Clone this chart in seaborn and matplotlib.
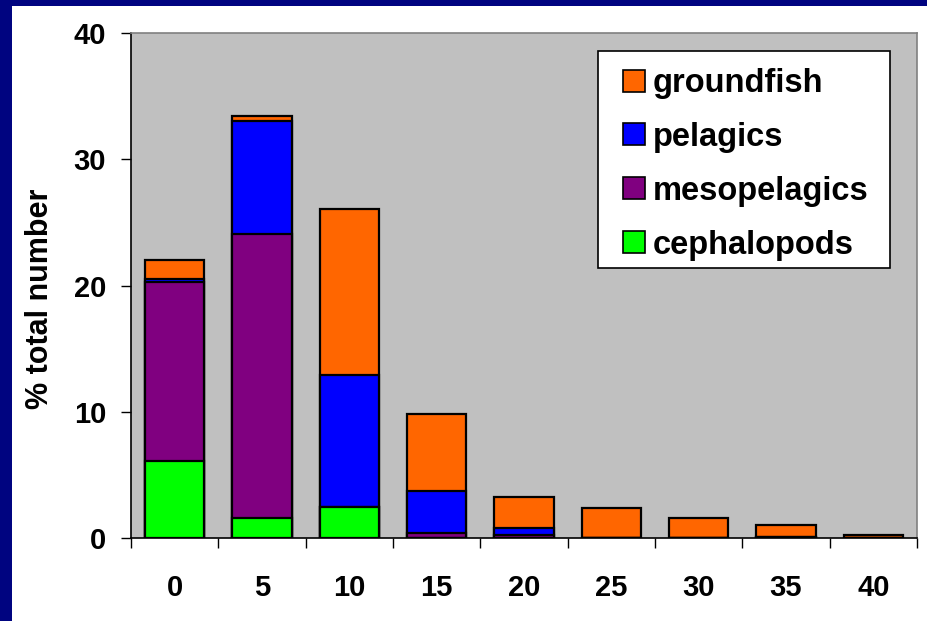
import numpy as np
import pandas as pd
import matplotlib
matplotlib.use("Agg")
import matplotlib.pyplot as plt
from matplotlib.patches import Rectangle, Patch
import seaborn as sns

# Depth / size classes on the x axis
categories = ["0", "5", "10", "15", "20", "25", "30", "35", "40"]

# Percent of total number, per group
cephalopods = [6.1, 1.6, 2.5, 0.0, 0.0, 0.0, 0.0, 0.0, 0.0]
mesopelagics = [14.2, 22.5, 0.0, 0.45, 0.25, 0.0, 0.0, 0.1, 0.0]
pelagics = [0.2, 8.9, 10.4, 3.3, 0.55, 0.0, 0.0, 0.0, 0.0]
groundfish = [1.5, 0.4, 13.2, 6.1, 2.5, 2.4, 1.6, 0.95, 0.3]

series_names = ["groundfish", "pelagics", "mesopelagics", "cephalopods"]
series_colors = ["#ff6600", "#0000ff", "#800080", "#00ff00"]

sns.set_theme(style="white")
plt.rcParams["font.family"] = ["Liberation Sans", "DejaVu Sans"]
plt.rcParams["font.weight"] = "bold"
plt.rcParams["text.color"] = "black"
plt.rcParams["axes.labelcolor"] = "black"
plt.rcParams["xtick.color"] = "black"
plt.rcParams["ytick.color"] = "black"

df = pd.DataFrame({
    "cat": categories,
    "cephalopods": cephalopods,
    "mesopelagics": mesopelagics,
    "pelagics": pelagics,
    "groundfish": groundfish,
})
# cumulative heights, top segment first so lower segments paint over it
df["c_ceph"] = df["cephalopods"]
df["c_meso"] = df["c_ceph"] + df["mesopelagics"]
df["c_pel"] = df["c_meso"] + df["pelagics"]
df["c_ground"] = df["c_pel"] + df["groundfish"]

W, H = 927, 621
fig = plt.figure(figsize=(W / 100, H / 100), dpi=100)
fig.patch.set_facecolor("white")

# navy slide frame along the left and top edges
navy = "#000480"
fig.patches.append(Rectangle((0, 0), 12 / W, 1, transform=fig.transFigure,
                             facecolor=navy, edgecolor="none", zorder=0))
fig.patches.append(Rectangle((0, 1 - 6 / H), 1, 6 / H, transform=fig.transFigure,
                             facecolor=navy, edgecolor="none", zorder=0))

ax = fig.add_axes([131 / W, (H - 538.3) / H, (917 - 131) / W, (538.3 - 33) / H])
ax.set_facecolor("#c0c0c0")

for col, color in zip(["c_ground", "c_pel", "c_meso", "c_ceph"], series_colors):
    sns.barplot(data=df, x="cat", y=col, order=categories, color=color,
                saturation=1, width=0.68, edgecolor="black", linewidth=1.6,
                ax=ax, zorder=3)

ax.set_xlim(-0.5, len(categories) - 0.5)
ax.set_ylim(0, 40)
ax.set_yticks([0, 10, 20, 30, 40])
ax.set_yticklabels(["0", "10", "20", "30", "40"])

# category boundary tick marks, labels at category centres
ax.set_xticks(np.arange(len(categories)))
ax.set_xticklabels(categories)
ax.set_xticks(np.arange(len(categories) + 1) - 0.5, minor=True)
ax.tick_params(axis="x", which="major", length=0, pad=26, labelsize=21,
               labelcolor="black")
ax.tick_params(axis="x", which="minor", length=7, width=1, color="black",
               direction="out", bottom=True)
ax.tick_params(axis="y", which="major", length=7, width=1, color="black",
               direction="out", left=True, pad=11, labelsize=21,
               labelcolor="black")
for lab in ax.get_xticklabels() + ax.get_yticklabels():
    lab.set_fontweight("bold")

ax.set_xlabel("")
ax.set_ylabel("% total number", fontsize=22, fontweight="bold", color="black")
ax.yaxis.set_label_coords(-0.097, 0.4736)

for side in ["left", "bottom"]:
    ax.spines[side].set_color("black")
    ax.spines[side].set_linewidth(1.2)
for side in ["top", "right"]:
    ax.spines[side].set_color("#808080")
    ax.spines[side].set_linewidth(1.2)

# legend box outline, drawn as its own rectangle
ax.add_patch(Rectangle((0.5941, 0.5349), 0.3715, 0.4294, transform=ax.transAxes,
                       facecolor="white", edgecolor="black", linewidth=1.2,
                       zorder=4))

handles = [Patch(facecolor=c, edgecolor="black", linewidth=1.2, label=n)
           for n, c in zip(series_names, series_colors)]
leg = ax.legend(handles=handles, loc="upper left",
                bbox_to_anchor=(0.626, 0.9307), borderaxespad=0,
                frameon=False,
                prop={"size": 23.5, "weight": "bold"},
                handlelength=0.66, handleheight=0.66, handletextpad=0.25,
                labelspacing=0.7, borderpad=0)
for t in leg.get_texts():
    t.set_color("black")
leg.set_zorder(5)

fig.savefig("out.png", dpi=100, facecolor=fig.get_facecolor())
